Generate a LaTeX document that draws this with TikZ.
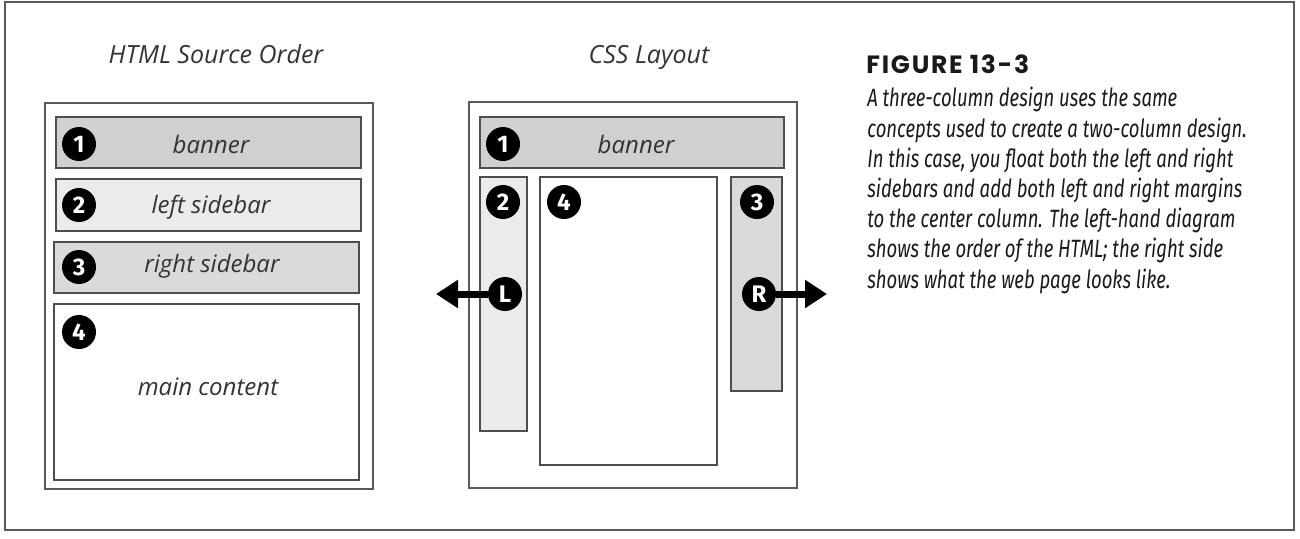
\documentclass[tikz,border=0pt]{standalone}
\usepackage{fontspec}
\usetikzlibrary{arrows.meta}
\setmainfont{Open Sans}
\newfontfamily\figfont[LetterSpace=7]{Poppins}
\newfontfamily\capfont[FakeStretch=0.74]{Fira Sans}
\newfontfamily\numfont{Fira Sans}
\definecolor{boxline}{HTML}{4D4D4D}
\definecolor{framegray}{HTML}{5A5A5A}
\definecolor{bannerfill}{HTML}{D0D0D0}
\definecolor{leftfill}{HTML}{EBEBEB}
\definecolor{rightfill}{HTML}{DADADA}
\definecolor{titlegray}{HTML}{333333}
\tikzset{
  region/.style={draw=boxline, line width=1pt, inner sep=0pt},
  outerbox/.style={draw=framegray, line width=0.8pt, inner sep=0pt},
  num/.style={circle, fill=black, text=white, inner sep=0pt, minimum size=17pt,
    font=\numfont\bfseries\fontsize{12}{12}\selectfont},
  lbl/.style={font=\itshape\fontsize{12}{14}\selectfont, text=titlegray, anchor=base},
  ttl/.style={font=\itshape\fontsize{12.5}{15}\selectfont, text=titlegray, anchor=base},
  fatarrow/.style={line width=3.5pt, -{Triangle[width=13.5pt,length=11pt]}},
}
\begin{document}
\begin{tikzpicture}[x=0.5pt,y=-0.5pt]
\useasboundingbox (0,0) rectangle (1300,538);
\draw[draw=framegray, line width=1pt] (5,2) rectangle (1294,530);

% titles
\node[ttl] (t1) at (216,63) {HTML Source Order};
\node[ttl] (t2) at (649,63) {CSS Layout};

% HTML source order
\node[outerbox, minimum width=164pt, minimum height=193pt] (hout) at (209,296) {};
\node[region, fill=bannerfill, minimum width=152.5pt, minimum height=25.5pt] (hb) at (208.5,142.5) {};
\node[region, fill=leftfill, minimum width=152.5pt, minimum height=26pt] (hl) at (208.5,205) {};
\node[region, fill=rightfill, minimum width=152.5pt, minimum height=25.5pt] (hr) at (206.5,267.5) {};
\node[region, fill=white, minimum width=152.5pt, minimum height=88pt] (hm) at (206.5,392) {};
\node[lbl] (hbt) at (211,153) {banner};
\node[lbl] (hlt) at (211,213) {left sidebar};
\node[lbl] (hrt) at (212,272) {right sidebar};
\node[lbl] (hmt) at (208,395) {main content};
\node[num] (h1) at (79,144) {1};
\node[num] (h2) at (79,205) {2};
\node[num] (h3) at (79,267) {3};
\node[num] (h4) at (79,332) {4};

% CSS layout
\node[outerbox, minimum width=164pt, minimum height=193pt] (cout) at (633,295) {};
\node[region, fill=bannerfill, minimum width=152pt, minimum height=25.5pt] (cb) at (632,142.5) {};
\node[region, fill=leftfill, minimum width=23.5pt, minimum height=127pt] (cl) at (503.5,304) {};
\node[region, fill=white, minimum width=88.5pt, minimum height=144pt] (cm) at (628.5,321) {};
\node[region, fill=rightfill, minimum width=25.5pt, minimum height=107pt] (cr) at (756.5,284) {};
\node[lbl] (cbt) at (636,153) {banner};
\node[num] (c1) at (503,144) {1};
\node[num] (c2) at (503,202) {2};
\node[num] (c4) at (564,202) {4};
\node[num] (c3) at (757,202) {3};
\node[num] (cL) at (505,294) {L};
\node[num] (cR) at (759,294) {R};
\coordinate (ltip) at (436,294);
\coordinate (rtip) at (827,294);
\draw[fatarrow] (cL) -- (ltip);
\draw[fatarrow] (cR) -- (rtip);

% caption
\node[anchor=base west, inner sep=0pt, font=\figfont\bfseries\fontsize{12.5}{13}\selectfont, text=black!90] (fig) at (866,73) {FIGURE 13-3};
\node[anchor=base west, inner sep=0pt, align=left, font=\capfont\itshape\fontsize{12.5}{15}\selectfont, text=black!90] (cap) at (867,288)
{A three-column design uses the same\\[0.1pt]
concepts used to create a two-column design.\\[0.1pt]
In this case, you float both the left and right\\[0.1pt]
sidebars and add both left and right margins\\[0.1pt]
to the center column. The left-hand diagram\\[0.1pt]
shows the order of the HTML; the right side\\[0.1pt]
shows what the web page looks like.};
\end{tikzpicture}
\end{document}
